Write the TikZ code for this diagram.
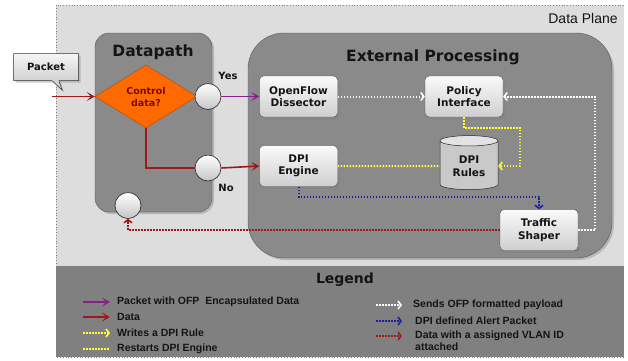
\documentclass[tikz,border=0pt]{standalone}
\usepackage{fontspec}
\setmainfont{Liberation Sans}
\newfontfamily\verd{DejaVu Sans}
\usetikzlibrary{shapes.geometric,shapes.callouts,shadows,arrows.meta,calc}
\definecolor{lightbg}{HTML}{DDDDDD}
\definecolor{panelgray}{HTML}{8A8A8A}
\definecolor{leggray}{HTML}{808080}
\definecolor{orng}{HTML}{FF6A00}
\definecolor{dred}{HTML}{9E1A1A}
\definecolor{txtred}{HTML}{7A0A0A}
\definecolor{purp}{HTML}{8A1E8A}
\definecolor{dblue}{HTML}{1E1E9E}
\definecolor{yel}{HTML}{FFFF30}
\definecolor{ink}{HTML}{141414}
\tikzset{
  panelbox/.style={fill=panelgray, draw=gray!70!black, line width=0.4pt, drop shadow={shadow xshift=2pt, shadow yshift=-2pt, opacity=0.4}},
  stepbox/.style={rounded corners=4pt, top color=gray!4, bottom color=gray!38, draw=gray!60!black, line width=0.4pt,
    minimum width=78pt, minimum height=41pt, inner sep=1pt, align=center, text=ink,
    font=\verd\bfseries\fontsize{10.5}{12.5}\selectfont,
    drop shadow={shadow xshift=2pt, shadow yshift=-2pt, opacity=0.45}},
  ball/.style={circle, minimum size=26pt, inner sep=0pt, top color=white, bottom color=gray!45, draw=gray!30!black, line width=0.6pt},
  ttl/.style={font=\verd\bfseries\fontsize{15.5}{18}\selectfont, text=ink},
  lbl/.style={font=\verd\bfseries\fontsize{10}{12}\selectfont, text=ink},
  legtxt/.style={font=\bfseries\fontsize{10.5}{12}\selectfont, text=ink, anchor=west, inner sep=0pt, align=left},
  redarrow/.style={draw=dred, line width=1.6pt, -{Stealth[length=8pt,width=9pt,inset=4pt]}},
  purparrow/.style={draw=purp, line width=1.6pt, -{Stealth[length=8pt,width=9pt,inset=4pt]}},
  dotline/.style={line width=2pt, dash pattern=on 1.5pt off 1.5pt},
  dottip/.style={-{Straight Barb[length=3pt,width=8pt,line width=1.6pt]}},
  wdot/.style={dotline, draw=white},
  ydot/.style={dotline, draw=yel},
  bdot/.style={dotline, draw=dblue},
  rdot/.style={dotline, draw=dred},
}
\begin{document}
\begin{tikzpicture}[x=1pt,y=-1pt]
\useasboundingbox (0,0) rectangle (628,360);
% backgrounds
\fill[lightbg] (56,5) rectangle (624,266);
\fill[leggray] (56,266) rectangle (624,357);
\draw[gray, dotted, line width=0.8pt] (624,5) -- (56,5) -- (56,357) -- (624,357);
\node[font=\fontsize{14}{16}\selectfont, text=ink] (dplbl) at (583,18) {Data Plane};
% panels
\node[panelbox, rounded corners=14pt, minimum width=117pt, minimum height=179pt] (dp) at (153.5,122.5) {};
\node[ttl] (dptitle) at (153,52) {Datapath};
\node[panelbox, rounded corners=36pt, minimum width=364pt, minimum height=225pt] (ep) at (430,145.5) {};
\node[ttl] (eptitle) at (433,57) {External Processing};
% packet callout
\node[rectangle callout, callout absolute pointer={(62,90)}, top color=gray!8, bottom color=gray!45, draw=gray!40!black,
  line width=0.5pt, minimum width=65pt, minimum height=27pt, lbl, drop shadow={shadow xshift=2pt, shadow yshift=-2pt, opacity=0.4}] (pkt) at (46,67) {Packet};
\coordinate (pktin) at (52,96.5);
% diamond
\node[diamond, fill=orng, draw=orng!70!black, line width=0.4pt, minimum width=102pt, minimum height=63pt, inner sep=0pt, aspect=1.6,
  align=center, font=\verd\bfseries\fontsize{9.5}{12}\selectfont, text=txtred] (dia) at (146,96.5) {Control\\data?};
% circles
\node[ball] (cy) at (208,96.5) {};
\node[ball] (cn) at (208,168) {};
\node[ball] (cr) at (128,205.5) {};
\node[lbl] (yes) at (228,76) {Yes};
\node[lbl] (no) at (226,188) {No};
% boxes
\node[stepbox] (ofd) at (298.5,96.5) {OpenFlow\\Dissector};
\node[stepbox] (pi) at (464,96.5) {Policy\\Interface};
\node[stepbox] (dpie) at (298.5,166) {DPI\\Engine};
\node[stepbox] (ts) at (539,230) {Traffic\\Shaper};
\node[cylinder, shape border rotate=90, aspect=0.3, minimum width=58pt, minimum height=54pt, inner sep=1pt,
  cylinder uses custom fill, cylinder body fill=gray!42, cylinder end fill=gray!22, draw=gray!30!black, line width=0.5pt,
  align=center, font=\verd\bfseries\fontsize{10.5}{12.5}\selectfont, text=ink] (rules) at (469,166) {DPI\\Rules};
% connectors
\draw[redarrow] (pktin) -- (dia.west);
\draw[purparrow] (cy.east) -- (ofd.west);
\draw[draw=dred, line width=1.6pt] (dia.south) |- (cn.west);
\draw[redarrow] (cn.east) -- (dpie.west);
\draw[wdot, dottip] (ofd.east) -- (pi.west);
\draw[ydot] (dpie.east) -- (rules.west);
\draw[ydot, dottip] (pi.south) -- ++(0,11) -| ([xshift=22pt]rules.east) -- (rules.east);
\draw[bdot, dottip] (dpie.south) -- ++(0,10) -| (ts.north);
\draw[wdot, dottip] (ts.east) -- ++(17,0) |- (pi.east);
\draw[rdot, dottip] (ts.west) -| (cr.south);
% legend
\node[font=\verd\bfseries\fontsize{14}{16}\selectfont, text=ink] (legtitle) at (345,280) {Legend};
\coordinate (la1) at (83,302); \coordinate (lb1) at (110,302);
\coordinate (la2) at (83,317); \coordinate (lb2) at (110,317);
\coordinate (la3) at (83,333); \coordinate (lb3) at (110,333);
\coordinate (la4) at (83,349); \coordinate (lb4) at (110,349);
\draw[purparrow] (la1) -- (lb1);
\draw[redarrow] (la2) -- (lb2);
\draw[ydot, dottip] (la3) -- (lb3);
\draw[ydot] (la4) -- (lb4);
\node[legtxt] (lt1) at (117,302) {Packet with OFP\ \ Encapsulated Data};
\node[legtxt] (lt2) at (117,317) {Data};
\node[legtxt] (lt3) at (117,333) {Writes a DPI Rule};
\node[legtxt] (lt4) at (117,349) {Restarts DPI Engine};
\coordinate (ra1) at (376,305); \coordinate (rb1) at (402,305);
\coordinate (ra2) at (376,321); \coordinate (rb2) at (402,321);
\coordinate (ra3) at (376,336); \coordinate (rb3) at (402,336);
\draw[wdot, dottip] (ra1) -- (rb1);
\draw[bdot, dottip] (ra2) -- (rb2);
\draw[rdot, dottip] (ra3) -- (rb3);
\node[legtxt] (rt1) at (413,305) {Sends OFP formatted payload};
\node[legtxt] (rt2) at (415,321) {DPI defined Alert Packet};
\node[legtxt, anchor=north west] (rt3) at (415,331) {Data with a assigned VLAN ID\\attached};
\end{tikzpicture}
\end{document}
